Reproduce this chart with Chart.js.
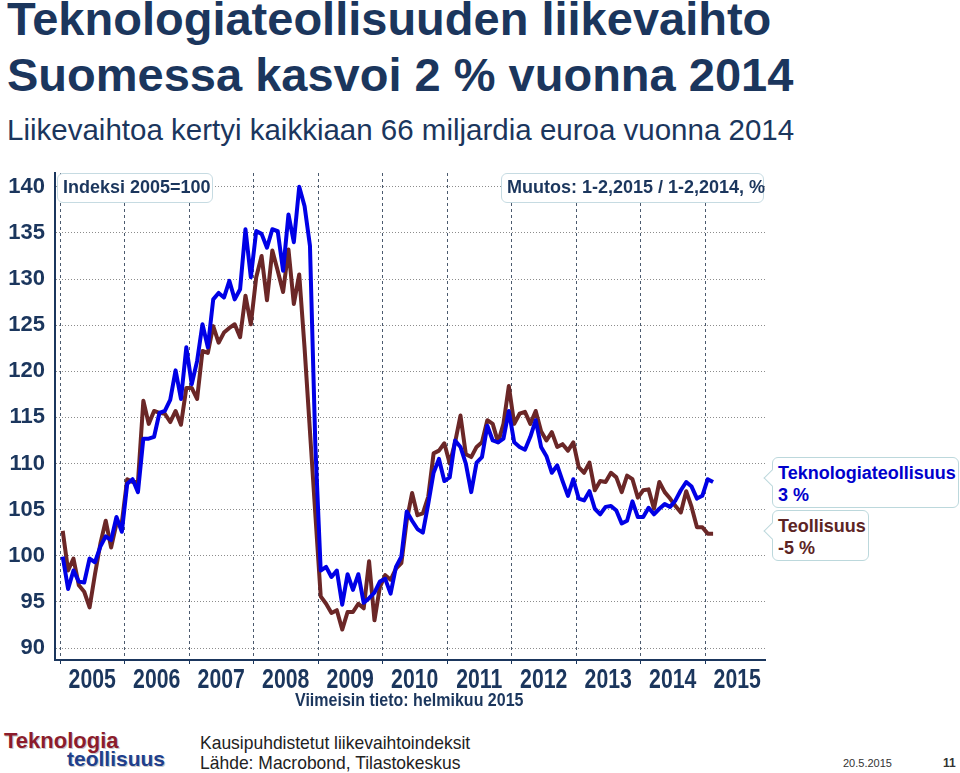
<!DOCTYPE html>
<html lang="fi">
<head>
<meta charset="UTF-8">
<title>Teknologiateollisuuden liikevaihto</title>
<script src="https://cdn.jsdelivr.net/npm/chart.js"></script>
<style>
    body {
        margin: 0;
        width: 960px;
        height: 773px;
        position: relative;
        overflow: hidden;
        background: #fff;
        font-family: Arial, "Liberation Sans", sans-serif;
        color: #1b365d;
    }
    .t { position: absolute; white-space: nowrap; transform-origin: 0 0; }
    #title1, #title2 { left: 7px; font-size: 47px; line-height: 47px; font-weight: bold; }
    #title1 { top: -5px; }
    #title2 { top: 51px; }
    #subtitle { left: 7px; top: 115px; font-size: 29.5px; line-height: 29.5px; }
    #chartBox { position: absolute; left: 0; top: 160px; width: 780px; height: 560px; }
    .box {
        position: absolute;
        box-sizing: border-box;
        background: #fff;
        border: 1.5px solid #c6dbe2;
        border-radius: 6px;
        font-weight: bold;
        font-size: 18px;
        white-space: nowrap;
    }
    #indeksi { left: 57px; top: 173px; width: 156px; height: 30px; line-height: 27px; padding-left: 5px; }
    #muutos { left: 501px; top: 173px; width: 263px; height: 30px; line-height: 27px; padding-left: 5px; }
    .callout { line-height: 22px; padding: 4px 0 0 5px; border-color: #bcd8dc; }
    .callout::before {
        content: "";
        position: absolute;
        left: -7px;
        top: 14px;
        width: 11px;
        height: 11px;
        background: #fff;
        border-left: 1.5px solid #bcd8dc;
        border-bottom: 1.5px solid #bcd8dc;
        transform: rotate(45deg);
    }
    #cTekno { left: 772px; top: 457px; width: 187px; height: 51px; color: #0000cc; }
    #cTeoll { left: 772px; top: 510px; width: 97px; height: 51px; color: #5c2424; }
    #viimeisin { left: 295px; top: 691px; font-size: 18px; line-height: 18px; font-weight: bold; transform: scaleX(0.89); }
    #logo1 { left: 4px; top: 730px; font-size: 22px; line-height: 22px; font-weight: bold; color: #8c1c2c; text-shadow: 1px 1px 0 #c9c9c9; }
    #logo2 { left: 67px; top: 748px; font-size: 21px; line-height: 21px; font-weight: bold; color: #203f8c; text-shadow: 1px 1px 0 #c9c9c9; }
    #foot1, #foot2 { left: 200px; font-size: 19px; line-height: 19px; color: #222; transform: scaleX(0.92); }
    #foot1 { top: 733px; }
    #foot2 { top: 753px; }
    #date { left: 843px; top: 758px; font-size: 11px; line-height: 11px; color: #333; }
    #page { left: 943px; top: 757px; font-size: 12px; line-height: 12px; font-weight: bold; color: #333; }
</style>
</head>
<body>
<div class="t" id="title1">Teknologiateollisuuden liikevaihto</div>
<div class="t" id="title2">Suomessa kasvoi 2 % vuonna 2014</div>
<div class="t" id="subtitle">Liikevaihtoa kertyi kaikkiaan 66 miljardia euroa vuonna 2014</div>

<div id="chartBox"><canvas id="chart"></canvas></div>

<div class="box" id="indeksi">Indeksi 2005=100</div>
<div class="box" id="muutos">Muutos: 1-2,2015 / 1-2,2014, %</div>
<div class="box callout" id="cTekno">Teknologiateollisuus<br>3 %</div>
<div class="box callout" id="cTeoll">Teollisuus<br>-5 %</div>

<div class="t" id="viimeisin">Viimeisin tieto: helmikuu 2015</div>

<div class="t" id="logo1">Teknologia</div>
<div class="t" id="logo2">teollisuus</div>
<div class="t" id="foot1">Kausipuhdistetut liikevaihtoindeksit</div>
<div class="t" id="foot2">Lähde: Macrobond, Tilastokeskus</div>
<div class="t" id="date">20.5.2015</div>
<div class="t" id="page">11</div>

<script>
    // Monthly, seasonally adjusted turnover index 2005=100, 1/2005 - 2/2015
    const firstYear = 2005;
    const years = ["2005", "2006", "2007", "2008", "2009", "2010", "2011", "2012", "2013", "2014", "2015"];
    const yTicks = [90, 95, 100, 105, 110, 115, 120, 125, 130, 135, 140];

    // Teknologiateollisuus (blue)
    const tekno = [
        99.9, 96.4, 98.4, 97.2, 97.1, 99.7, 99.3, 101.0, 102.1, 101.7, 104.2, 102.6,      // 2005
        107.8, 108.3, 106.9, 112.7, 112.7, 112.9, 115.5, 115.7, 116.9, 120.1, 117.0, 122.6, // 2006
        118.6, 121.1, 125.1, 122.6, 127.8, 128.5, 128.0, 129.8, 127.8, 128.9, 135.4, 130.2, // 2007
        135.2, 134.9, 133.4, 135.4, 135.2, 130.9, 137.0, 134.0, 140.0, 137.9, 133.6, 112.0, // 2008
        98.4, 98.8, 97.7, 98.4, 94.7, 98.0, 96.3, 98.0, 94.9, 95.4, 96.0, 97.2,            // 2009
        97.5, 95.9, 98.8, 99.9, 104.8, 103.8, 102.9, 102.5, 105.6, 109.0, 110.5, 108.1,    // 2010
        108.5, 112.5, 111.8, 110.0, 106.9, 110.1, 110.7, 114.1, 112.5, 112.3, 112.7, 115.7, // 2011
        112.3, 111.8, 111.5, 112.9, 114.7, 111.8, 110.8, 109.0, 109.8, 108.1, 106.5, 108.3, // 2012
        106.2, 106.0, 107.0, 105.1, 104.5, 105.3, 105.4, 104.9, 103.5, 103.8, 105.9, 104.2, // 2013
        104.2, 105.2, 104.5, 105.1, 105.6, 105.3, 106.0, 107.1, 108.0, 107.5, 106.2, 106.5, // 2014
        108.3, 108.0                                                                        // 2015
    ];

    // Teollisuus (brown)
    const teoll = [
        102.7, 98.4, 99.7, 96.8, 96.1, 94.4, 98.0, 101.3, 103.8, 100.9, 103.5, 103.6,      // 2005
        108.3, 108.0, 108.0, 116.8, 114.3, 115.7, 115.5, 115.4, 114.5, 115.7, 114.2, 118.2, // 2006
        118.2, 117.0, 122.2, 122.0, 124.9, 123.1, 124.2, 124.7, 125.1, 123.7, 128.2, 125.1, // 2007
        130.2, 132.5, 127.7, 133.1, 130.9, 128.6, 133.2, 127.3, 130.5, 122.5, 113.5, 104.5, // 2008
        95.6, 94.8, 93.8, 94.1, 92.0, 93.9, 93.9, 94.8, 94.3, 99.4, 93.0, 96.6,            // 2009
        97.9, 97.4, 98.6, 99.2, 103.8, 106.8, 104.4, 104.6, 106.4, 111.1, 111.4, 112.2,    // 2010
        110.0, 112.3, 115.2, 111.0, 110.7, 111.8, 112.3, 114.7, 114.3, 112.3, 114.3, 118.4, // 2011
        114.3, 115.4, 115.6, 114.3, 115.7, 113.5, 112.5, 113.4, 111.8, 112.1, 111.4, 112.3, // 2012
        109.6, 109.0, 110.1, 107.1, 108.1, 108.0, 109.0, 108.5, 106.9, 108.7, 108.3, 106.3, // 2013
        107.1, 107.2, 105.1, 108.0, 106.9, 106.2, 105.4, 104.7, 107.0, 105.3, 103.1, 103.1, // 2014
        102.4, 102.4                                                                        // 2015
    ];

    const navy = "#1b365d";

    // month index -> decimal year (middle of month)
    function toPoints(values) {
        return values.map((v, i) => ({ x: firstYear + (i + 0.5) / 12, y: v }));
    }

    // the year labels are set in a condensed bold face, centred in each year
    const condensedYearLabels = {
        id: "condensedYearLabels",
        afterDraw(chart) {
            const scale = chart.scales.x;
            const c = chart.ctx;
            c.save();
            c.fillStyle = navy;
            c.font = "bold 28px Arial, 'Liberation Sans', sans-serif";
            c.textAlign = "center";
            c.textBaseline = "alphabetic";
            scale.ticks.forEach(t => {
                const x = scale.getPixelForValue(t.value + 0.5);
                c.save();
                c.translate(x, scale.top + 28);
                c.scale(0.76, 1);
                c.fillText(years[t.value - firstYear], 0, 0);
                c.restore();
            });
            c.restore();
        }
    };

    const ctx = document.getElementById("chart").getContext("2d");
    new Chart(ctx, {
        type: "line",
        data: {
            datasets: [
                { label: "Teknologiateollisuus", data: toPoints(tekno), borderColor: "#0000e6", borderWidth: 4 },
                { label: "Teollisuus", data: toPoints(teoll), borderColor: "#6b2727", borderWidth: 4 }
            ]
        },
        options: {
            responsive: true,
            maintainAspectRatio: false,
            animation: false,
            layout: { padding: { top: 13, right: 15, left: 0, bottom: 0 } },
            elements: { point: { radius: 0 }, line: { tension: 0, borderJoinStyle: "round" } },
            plugins: { legend: { display: false }, tooltip: { enabled: false } },
            scales: {
                x: {
                    type: "linear",
                    min: 2004.922,
                    max: 2015.93,
                    afterBuildTicks: axis => { axis.ticks = years.map(y => ({ value: Number(y) })); },
                    afterFit: axis => { axis.height = 60; },
                    grid: { color: "#4b5a6e", lineWidth: 1, drawTicks: true, tickLength: 4, tickColor: navy },
                    border: { color: navy, width: 2, dash: [3, 3] },
                    ticks: { display: false }
                },
                y: {
                    min: 88.7,
                    max: 141.5,
                    afterBuildTicks: axis => { axis.ticks = yTicks.map(v => ({ value: v })); },
                    afterFit: axis => {
                        axis.width = 55;
                        // the outer tick labels sit inside the range, no extra room needed
                        axis.paddingTop = 0;
                        axis.paddingBottom = 0;
                    },
                    grid: { color: "#8c8c8c", lineWidth: 1, drawTicks: false },
                    border: { color: navy, width: 2, dash: [1, 2] },
                    ticks: {
                        padding: 10,
                        color: navy,
                        font: { family: "Arial, 'Liberation Sans', sans-serif", size: 22, weight: "bold", lineHeight: 1 }
                    }
                }
            }
        },
        plugins: [condensedYearLabels]
    });
</script>
</body>
</html>
